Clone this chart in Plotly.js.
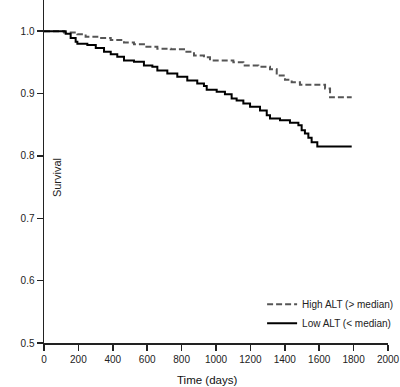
<!DOCTYPE html>
<html>
<head>
<meta charset="utf-8">
<script src="https://cdn.plot.ly/plotly-3.0.1.min.js"></script>
<style>html,body{margin:0;padding:0;background:#fff}#chart{width:400px;height:387px}</style>
</head>
<body>
<div id="chart"></div>
<script>
// High ALT (> median) Kaplan-Meier estimate
const highDays = [0, 87, 116, 194, 242, 310, 388, 465, 523, 581, 659, 737, 814, 872, 930, 965, 1101, 1159, 1246, 1314, 1353, 1401, 1440, 1488, 1634, 1663, 1789];
const highSurv = [1.0, 1.0, 0.998, 0.995, 0.991, 0.989, 0.986, 0.982, 0.979, 0.975, 0.972, 0.971, 0.967, 0.961, 0.958, 0.953, 0.950, 0.945, 0.943, 0.939, 0.929, 0.922, 0.918, 0.914, 0.908, 0.894, 0.894];
// Low ALT (< median) Kaplan-Meier estimate
const lowDays = [0, 105, 126, 155, 184, 194, 252, 301, 349, 388, 426, 465, 523, 581, 630, 659, 717, 775, 833, 891, 930, 946, 1004, 1052, 1091, 1120, 1159, 1198, 1256, 1295, 1314, 1372, 1430, 1479, 1498, 1517, 1537, 1556, 1589, 1789];
const lowSurv = [1.0, 1.0, 0.996, 0.989, 0.983, 0.980, 0.978, 0.973, 0.967, 0.963, 0.959, 0.953, 0.951, 0.945, 0.943, 0.937, 0.932, 0.927, 0.921, 0.916, 0.912, 0.906, 0.903, 0.899, 0.892, 0.889, 0.884, 0.879, 0.873, 0.865, 0.860, 0.857, 0.853, 0.849, 0.841, 0.836, 0.829, 0.822, 0.815, 0.815];
const xTicks = [0, 200, 400, 600, 800, 1000, 1200, 1400, 1600, 1800, 2000];
const yTicks = [0.5, 0.6, 0.7, 0.8, 0.9, 1.0];
const yTickText = ['0.5', '0.6', '0.7', '0.8', '0.9', '1.0'];

const traces = [
  {x: highDays, y: highSurv, name: 'High ALT (> median)', mode: 'lines',
   line: {shape: 'hv', color: '#555555', width: 2, dash: '6px,3px'}},
  {x: lowDays, y: lowSurv, name: 'Low ALT (< median)', mode: 'lines',
   line: {shape: 'hv', color: '#000000', width: 2}}
];
const fam = 'Liberation Sans, Arial, sans-serif';
const layout = {
  width: 400, height: 387,
  margin: {l: 44, r: 12, t: 0, b: 44},
  paper_bgcolor: '#fff', plot_bgcolor: '#fff',
  font: {family: fam, size: 10, color: '#222'},
  showlegend: true,
  legend: {x: 0.634, y: 0.155, xanchor: 'left', yanchor: 'top', bgcolor: 'rgba(0,0,0,0)',
           font: {family: fam, size: 10, color: '#222'}, tracegroupgap: 0},
  xaxis: {range: [0, 2000], tickvals: xTicks, ticks: 'outside', ticklen: 6, tickwidth: 1.5,
          tickcolor: '#222', showline: true, linecolor: '#222', linewidth: 1.5,
          showgrid: false, zeroline: false, fixedrange: true},
  yaxis: {range: [0.5, 1.05], tickvals: yTicks, ticktext: yTickText, ticks: 'outside', ticklen: 6, tickwidth: 1.5,
          tickcolor: '#222', showline: true, linecolor: '#222', linewidth: 1.5,
          showgrid: false, zeroline: false, fixedrange: true},
  annotations: [
    {text: 'Survival', xref: 'paper', yref: 'paper', x: 0.038, y: 0.481, xanchor: 'center', yanchor: 'middle',
     textangle: -90, showarrow: false, font: {family: fam, size: 11, color: '#222'}},
    {text: 'Time (days)', xref: 'paper', yref: 'paper', x: 0.474, y: -0.108, xanchor: 'center', yanchor: 'middle',
     showarrow: false, font: {family: fam, size: 11.5, color: '#111'}}
  ]
};
Plotly.newPlot('chart', traces, layout, {displayModeBar: false, staticPlot: true});
</script>
</body>
</html>
